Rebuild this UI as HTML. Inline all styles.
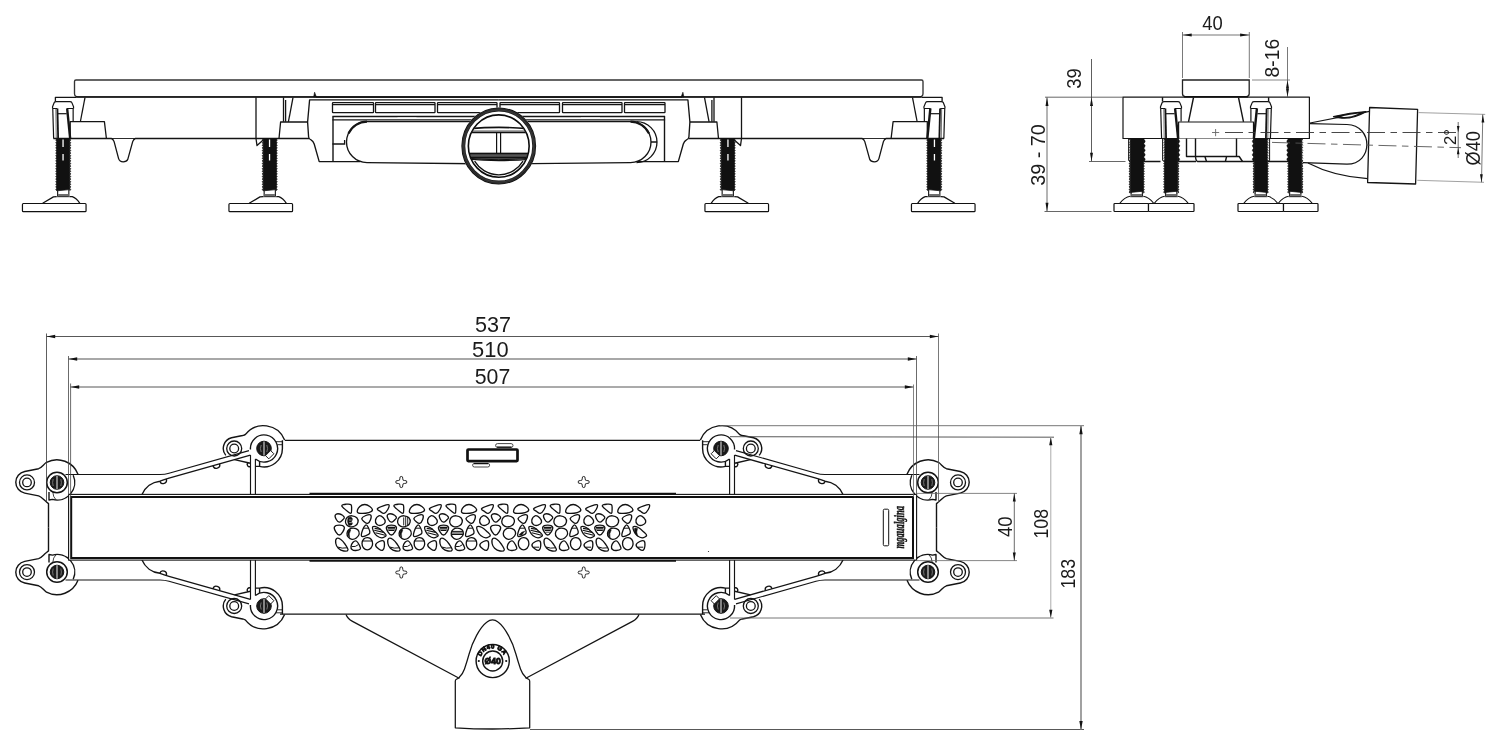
<!DOCTYPE html>
<html lang="en"><head><meta charset="utf-8"><title>Linear drain drawing</title>
<style>
html,body{margin:0;padding:0;background:#fff;}
body{width:1500px;height:751px;overflow:hidden;font-family:"Liberation Sans",sans-serif;}
svg{display:block;position:absolute;left:0;top:0;}
</style></head><body>
<svg width="1500" height="751" viewBox="0 0 1500 751" shape-rendering="geometricPrecision">
<rect x="0" y="0" width="1500" height="751" fill="#fff"/>
<defs>
<g id="clip" fill="none" stroke="#141414" stroke-width="1.2" stroke-linejoin="round">
  <path d="M-10.7,108.5 V106.8 L-9,102.6 Q-8.6,101.6 -7,101.6 H6.6 Q8.2,101.6 8.6,102.6 L10.3,106.8 V108.5" fill="#fff"/>
  <path d="M-10.7,108.5 H-6 M3.6,108.5 H10.3" stroke-width="1.2"/>
  <path d="M-10.5,108.5 L-9.6,138.5" />
  <path d="M-7.4,108.7 L-7.0,138.5" stroke-width="0.7" stroke="#333"/>
  <path d="M-5.8,108.5 L-5.1,138.5" stroke-width="1.8"/>
  <path d="M9.9,108.5 V121.5"/>
  <path d="M-5.4,113.7 H3.4" stroke-width="1.2"/>
  <path d="M3.9,108.5 L6.9,138.5" stroke-width="2.4"/>
</g>
<g id="screw">
  <path d="M-6.3,138.5 H6.3 V189.6 L-6.3,190.8 Z" fill="#111" stroke="#111" stroke-width="0.8"/>
  <path d="M-6.40,138.80 q-2.30,1.30 0,2.60 q-2.30,1.30 0,2.60 q-2.30,1.30 0,2.60 q-2.30,1.30 0,2.60 q-2.30,1.30 0,2.60 q-2.30,1.30 0,2.60 q-2.30,1.30 0,2.60 q-2.30,1.30 0,2.60 q-2.30,1.30 0,2.60 q-2.30,1.30 0,2.60 q-2.30,1.30 0,2.60 q-2.30,1.30 0,2.60 q-2.30,1.30 0,2.60 q-2.30,1.30 0,2.60 q-2.30,1.30 0,2.60 q-2.30,1.30 0,2.60 q-2.30,1.30 0,2.60 q-2.30,1.30 0,2.60 q-2.30,1.30 0,2.60 q-2.30,1.30 0,2.60" fill="#111" stroke="#111" stroke-width="0.5"/>
  <path d="M6.40,138.80 q2.30,1.30 0,2.60 q2.30,1.30 0,2.60 q2.30,1.30 0,2.60 q2.30,1.30 0,2.60 q2.30,1.30 0,2.60 q2.30,1.30 0,2.60 q2.30,1.30 0,2.60 q2.30,1.30 0,2.60 q2.30,1.30 0,2.60 q2.30,1.30 0,2.60 q2.30,1.30 0,2.60 q2.30,1.30 0,2.60 q2.30,1.30 0,2.60 q2.30,1.30 0,2.60 q2.30,1.30 0,2.60 q2.30,1.30 0,2.60 q2.30,1.30 0,2.60 q2.30,1.30 0,2.60 q2.30,1.30 0,2.60 q2.30,1.30 0,2.60" fill="#111" stroke="#111" stroke-width="0.5"/>
  <path d="M-0.2,139.5 V147 M-0.2,154 V160.5" stroke="#fff" stroke-width="1.3"/>
  <path d="M-5.6,190.5 V196 M5.6,189.5 V196" stroke="#111" stroke-width="1.1" fill="none"/>
  <rect x="-5.2" y="194" width="10.4" height="2.6" fill="#6e6e6e"/>
</g>
<g id="screw2">
  <path d="M-6.4,138.5 H6.4 V191.2 L-6.4,192.4 Z" fill="#111" stroke="#111" stroke-width="0.8"/>
  <path d="M-6.50,138.80 q-2.30,1.30 0,2.60 q-2.30,1.30 0,2.60 q-2.30,1.30 0,2.60 q-2.30,1.30 0,2.60 q-2.30,1.30 0,2.60 q-2.30,1.30 0,2.60 q-2.30,1.30 0,2.60 q-2.30,1.30 0,2.60 q-2.30,1.30 0,2.60 q-2.30,1.30 0,2.60 q-2.30,1.30 0,2.60 q-2.30,1.30 0,2.60 q-2.30,1.30 0,2.60 q-2.30,1.30 0,2.60 q-2.30,1.30 0,2.60 q-2.30,1.30 0,2.60 q-2.30,1.30 0,2.60 q-2.30,1.30 0,2.60 q-2.30,1.30 0,2.60 q-2.30,1.30 0,2.60 q-2.30,1.30 0,2.60" fill="#111" stroke="#111" stroke-width="0.5"/>
  <path d="M6.50,138.80 q2.30,1.30 0,2.60 q2.30,1.30 0,2.60 q2.30,1.30 0,2.60 q2.30,1.30 0,2.60 q2.30,1.30 0,2.60 q2.30,1.30 0,2.60 q2.30,1.30 0,2.60 q2.30,1.30 0,2.60 q2.30,1.30 0,2.60 q2.30,1.30 0,2.60 q2.30,1.30 0,2.60 q2.30,1.30 0,2.60 q2.30,1.30 0,2.60 q2.30,1.30 0,2.60 q2.30,1.30 0,2.60 q2.30,1.30 0,2.60 q2.30,1.30 0,2.60 q2.30,1.30 0,2.60 q2.30,1.30 0,2.60 q2.30,1.30 0,2.60 q2.30,1.30 0,2.60" fill="#111" stroke="#111" stroke-width="0.5"/>
  <path d="M6.4,139 q4.2,2.25 0,4.5 q4.2,2.25 0,4.5 q4.2,2.25 0,4.5 q4.2,2.25 0,4.5 q4.2,2.25 0,4.5 Z" fill="#111" stroke="#111" stroke-width="0.4"/>
  <path d="M-7.3,140 V160" stroke="#fff" stroke-width="0.7" stroke-dasharray="1.2 1.4" fill="none"/>
  <path d="M-5.6,192 V196 M5.6,191 V196" stroke="#111" stroke-width="1.1" fill="none"/>
  <rect x="-5.2" y="194" width="10.4" height="2.6" fill="#6e6e6e"/>
  <path d="M-6.6,196.3 Q-12,197 -16.8,203.2 M6.6,196.3 Q12,197 16.8,203.2" stroke="#111" stroke-width="1.1" fill="none"/>
  <path d="M-6.6,196.7 H6.6" stroke="#111" stroke-width="0.9"/>
</g>
<g id="foot" fill="none" stroke="#111" stroke-width="1.25" stroke-linejoin="round">
  <path d="M-6.6,196.7 H6.6" stroke-width="0.9"/>
  <path d="M-6.6,196.6 L-9.8,196.9 L-20.6,203.3"/>
  <path d="M6.6,196.6 H9 Q13.2,198 16.6,203.3"/>
  <rect x="-40.8" y="203.5" width="63.6" height="8.2" rx="0.9" fill="#fff" stroke-width="1.2"/>
</g></defs>

<g id="fhalf" fill="none" stroke="#141414" stroke-width="1.3" stroke-linejoin="round" stroke-linecap="butt">
  <!-- frame -->
  <path d="M76,97.3 H55.4 V101.6" />
  <path d="M53.4,138.5 H111.4 Q113.2,139 114.1,141.6 L118.6,158.6 Q119.6,161.8 123.2,161.8 Q126.7,161.8 127.7,159.6 L132.7,141.6 Q133.6,139 135.4,138.5 H309" />
  <path d="M111.4,138.5 H135.4" stroke-width="0.9"/>
  <path d="M85,97.5 L80.4,121.5"/>
  <path d="M70.2,138.5 V121.6 H104.4 L106.4,138.5"/>
  <path d="M256,97.3 V138.5"/>
  <path d="M283.5,97.3 V121.8 M285.6,100 V121.8" />
  <path d="M293,97.5 L288.4,121.8"/>
  <path d="M279,138.5 L280.6,122 H307.6"/>
  <path d="M256,138.5 L257,145.6 L263.2,140"/>
  <!-- housing -->
  <path d="M498.75,99.8 H309.6 L307.6,122 L308.6,137 Q309,139.2 311,139.8 Q313.2,140.8 314.2,144 L319.2,161.6 H360" stroke-width="1.35"/>
  <path d="M333,116.5 V161.6" stroke-width="1.4"/>
  <path d="M498.75,121.6 H367 A20.5,20.5 0 0 0 367,162.6 L498.75,164" stroke-width="1.35"/>
  <path d="M348.5,133.5 A20.5,20.5 0 0 1 367,121.6" stroke-width="2.1"/>
</g>
<g transform="translate(997.50,0) scale(-1,1)"><use href="#fhalf"/></g>
<path d="M76,80 H921.5 Q923,80 923,81.5 V93.6 Q923,96.9 919.5,96.9 H78 Q74.5,96.9 74.5,93.6 V81.5 Q74.5,80 76,80 Z" fill="none" stroke="#333" stroke-width="1.35"/>
<path d="M76,96.9 H921.5" stroke="#111" stroke-width="1.5" fill="none"/>
<path d="M313.6,97 L314.6,92.2 L316.4,97 Z M683.9,97 L682.9,92.2 L681.1,97 Z" fill="#111" stroke="#111" stroke-width="0.6"/>
<path d="M316,97.2 H682" stroke="#111" stroke-width="1" fill="none"/>
<g fill="none" stroke="#141414" stroke-width="1.3"><rect x="332.5" y="102.6" width="41.0" height="10" rx="0.6"/><path d="M332.5,104.6 H373.5" stroke-width="1.1"/><rect x="375.5" y="102.6" width="59.5" height="10" rx="0.6"/><path d="M375.5,104.6 H435.0" stroke-width="1.1"/><rect x="437.5" y="102.6" width="59.5" height="10" rx="0.6"/><path d="M437.5,104.6 H497.0" stroke-width="1.1"/><rect x="500.0" y="102.6" width="59.5" height="10" rx="0.6"/><path d="M500.0,104.6 H559.5" stroke-width="1.1"/><rect x="562.5" y="102.6" width="59.5" height="10" rx="0.6"/><path d="M562.5,104.6 H622.0" stroke-width="1.1"/><rect x="624.5" y="102.6" width="40.5" height="10" rx="0.6"/><path d="M624.5,104.6 H665.0" stroke-width="1.1"/><path d="M332.4,116.5 H665.1" stroke-width="1.3"/><path d="M332.4,119.9 H665.1" stroke-width="1.2"/><path d="M397.5,118.2 H416.5 M581,118.2 H600" stroke="#fff" stroke-width="1.6"/></g>
<path d="M332.4,144 H344.6 V140" fill="none" stroke="#141414" stroke-width="1.3"/>
<path d="M636.5,121.6 A20.5,20.5 0 0 1 636.5,162.6 M651,142 H657" fill="none" stroke="#141414" stroke-width="1.3"/>
<g><ellipse cx="498.75" cy="146" rx="37.6" ry="38.6" fill="#fff"/><clipPath id="cc"><ellipse cx="498.75" cy="146.2" rx="30" ry="31"/></clipPath><g clip-path="url(#cc)"><path d="M470,128.6 Q498.75,126.2 528,128.6" fill="none" stroke="#111" stroke-width="1.7"/><path d="M465,131.1 H533" fill="none" stroke="#111" stroke-width="0.9"/><path d="M465,132.7 H533" fill="none" stroke="#111" stroke-width="1.2"/><path d="M496.6,132.6 V153.5 M500.6,132.6 V153.5" fill="none" stroke="#111" stroke-width="1.2"/><path d="M465,153.4 H533 V158 Q498.75,161.4 465,158 Z" fill="#555" stroke="#111" stroke-width="1"/><path d="M465,157.4 H533" stroke="#111" stroke-width="1.5" fill="none"/><path d="M465,153.5 H533" stroke="#111" stroke-width="1.5" fill="none"/><path d="M466,159 Q498.75,162.2 532,159" stroke="#111" stroke-width="1.2" fill="none"/><path d="M474.6,161.2 A28.3,28.3 0 0 0 523,161.2" fill="none" stroke="#111" stroke-width="1.3"/></g><ellipse cx="498.75" cy="146" rx="35.45" ry="36.55" fill="none" stroke="#0c0c0c" stroke-width="3.9"/><ellipse cx="498.75" cy="146" rx="35.2" ry="36.3" fill="none" stroke="#fff" stroke-opacity="0.55" stroke-width="0.35"/><ellipse cx="498.75" cy="146" rx="36.3" ry="37.4" fill="none" stroke="#fff" stroke-opacity="0.5" stroke-width="0.3"/><ellipse cx="498.75" cy="146" rx="34.3" ry="35.4" fill="none" stroke="#fff" stroke-opacity="0.45" stroke-width="0.3"/><ellipse cx="498.75" cy="146.1" rx="30.4" ry="31.2" fill="none" stroke="#0c0c0c" stroke-width="1.6"/></g>
<g transform="translate(63.25,0)"><use href="#screw"/><use href="#foot"/></g>
<g transform="translate(269.75,0)"><use href="#screw"/><use href="#foot"/></g>
<g transform="translate(727.75,0) scale(-1,1)"><use href="#screw"/><use href="#foot"/></g>
<g transform="translate(934.25,0) scale(-1,1)"><use href="#screw"/><use href="#foot"/></g>
<use href="#clip" transform="translate(63.25,0)"/>
<use href="#clip" transform="translate(934.25,0) scale(-1,1)"/>
<g fill="none" stroke="#141414" stroke-width="1.4" stroke-linejoin="round"><rect x="1123" y="97.2" width="186.4" height="41.3" stroke-width="1.2"/><path d="M1162.5,97.2 V101.6 M1268.6,97.2 V101.6"/><path d="M1193.5,97.5 L1188.5,121.8 M1238.5,97.5 L1243.5,121.8"/><path d="M1178.6,138.5 V122 H1253.5 V138.5" stroke-width="1.2" fill="#fff"/><path d="M1186.5,138.5 V156.5 H1239.2 L1242.5,161.5"/><path d="M1195.5,138.5 V156.5 Q1195.8,161 1197.6,161.5 H1254"/><path d="M1236.5,138.5 V156.5"/><path d="M1205,156.8 L1206.5,161.5 M1226.5,156.8 L1225.4,161.5"/><path d="M1144,161.5 H1160.5 M1178.5,161.5 H1196 M1268,161.5 H1288.5" stroke-width="1.5"/><path d="M1128.6,138.5 V160.5 L1130,161.5 M1162.6,138.5 V160.5 L1164.4,161.5 M1269.6,138.5 V160.5 L1268,161.5" stroke-width="1"/></g>
<path d="M1182.5,80 H1249.2 V93.8 Q1249.2,96.6 1246.4,96.6 H1185.3 Q1182.5,96.6 1182.5,93.8 Z" fill="#fff" stroke="#222" stroke-width="1.3"/>
<path d="M1184,96.7 H1248" stroke="#111" stroke-width="1.4"/>
<use href="#clip" transform="translate(1171.2,0)"/>
<use href="#clip" transform="translate(1260.8,0) scale(-1,1)"/>
<use href="#screw2" transform="translate(1136.75,0)"/>
<use href="#screw2" transform="translate(1171.25,0)"/>
<use href="#screw2" transform="translate(1260.75,0) scale(-1,1)"/>
<use href="#screw2" transform="translate(1295.25,0) scale(-1,1)"/>
<rect x="1114.0" y="203.5" width="34.5" height="8" rx="0.8" fill="#fff" stroke="#111" stroke-width="1.2"/>
<rect x="1148.5" y="203.5" width="45.5" height="8" rx="0.8" fill="#fff" stroke="#111" stroke-width="1.2"/>
<rect x="1238.0" y="203.5" width="45.5" height="8" rx="0.8" fill="#fff" stroke="#111" stroke-width="1.2"/>
<rect x="1283.5" y="203.5" width="34.5" height="8" rx="0.8" fill="#fff" stroke="#111" stroke-width="1.2"/>
<g fill="none" stroke="#141414" stroke-width="1.25" stroke-linejoin="round"><path d="M1310,123 L1369.5,111.3"/><path d="M1333.5,116.6 Q1350,112.4 1366,111.6 Q1352,119.6 1340,117.9 Q1336,117.5 1333.5,116.6 Z" fill="#111"/><path d="M1341,116.4 Q1350,114.2 1359,113.4 Q1351,117 1344,116.9 Z" fill="#fff" stroke="none"/><path d="M1310,123.6 L1347,124.5 C1373.5,125.2 1373.5,164.2 1347,164.2 L1303,162.6"/><path d="M1308,163 Q1334,176.5 1367.6,178.6"/><path d="M1369.6,107.5 L1417.6,109.4 L1415.6,184 L1367.6,182.5 Z" stroke-width="1.3" fill="#fff"/></g>
<path d="M1212,132.5 H1219.2 M1215.6,129 V136.2" stroke="#666" stroke-width="0.9" fill="none"/>
<path d="M1225,132.5 H1461" stroke="#333" stroke-width="0.9" stroke-dasharray="18 5.5 6.5 5.5" fill="none"/>
<path d="M1272,142.4 L1461,147.7" stroke="#555" stroke-width="0.9" stroke-dasharray="18 5.5 6.5 5.5" fill="none"/>
<g id="quad" fill="none" stroke="#141414" stroke-width="1.4" stroke-linejoin="round"><path d="M78,474.2 A22.7,22.7 0 0 0 46.5,462.3 C43.5,464.5 41.5,467.8 38.6,468.7 L24.7,471.5 A11,11 0 0 0 24.7,493.1 L38.6,495.9 C41.5,496.8 43.5,499.8 46.5,502 L48.5,503.6 V527.25" fill="#fff"/><circle cx="27.00" cy="482.40" r="7.50" fill="none" stroke="#141414" stroke-width="1.30"/><circle cx="27.00" cy="482.40" r="4.30" fill="none" stroke="#141414" stroke-width="1.30"/><path d="M65.5,474.5 H160 Q165,474.4 169,473.2 L249,450.6" stroke-width="1.15"/><path d="M250.4,455.1 L169,478.2 Q164,479.6 160,481.2 A22,22 0 0 0 142,494.5"/><path d="M213,465.8 a3.4,3.4 0 0 0 6.6,-1.9 M159.8,481.3 a3.4,3.4 0 0 0 6.4,-2.4"/><path d="M234.5,459.6 L250.4,463.2 M247.6,463 a2.4,2.4 0 0 0 2.8,3.6"/><path d="M250.5,455 V494.5 M255.4,459 V494.5" stroke-width="1.15"/><path d="M73.2,475.2 A17.6,17.6 0 0 1 52.5,499.4 L49,500 V492"/><path d="M52.8,492 Q53,497 56,499.8" stroke-width="0.8"/><circle cx="57.00" cy="482.50" r="10.30" fill="#fff" stroke="#141414" stroke-width="1.50"/><circle cx="57.00" cy="482.50" r="6.80" fill="#1a1a1a" stroke="#141414" stroke-width="1.00"/><path d="M57,475.8 V489.2" stroke="#eee" stroke-width="1"/><path d="M53.2,479 q-1.2,3.5 0,7 M60.8,479 q1.2,3.5 0,7" stroke="#999" stroke-width="0.7"/><path d="M284.6,440 A22.8,22.8 0 0 0 245.5,434.4 C244,435.4 243.6,435.2 242.6,435.5 L231.5,437.8 A11,11 0 0 0 225.8,455.4" fill="none"/><circle cx="234.20" cy="448.50" r="7.50" fill="none" stroke="#141414" stroke-width="1.30"/><circle cx="234.20" cy="448.50" r="4.40" fill="none" stroke="#141414" stroke-width="1.30"/><path d="M282.4,440.3 V448.5 A18.4,18.4 0 0 1 259.6,466.4 H255.4 M259.6,466.4 V461.6"/><path d="M276,441.7 H282.4 M277.4,444.7 H282.4" stroke-width="0.9"/><path d="M250.45,449.5 A13.6,13.6 0 1 1 255.4,459.05" /><circle cx="264.00" cy="448.50" r="7.30" fill="#1a1a1a" stroke="#141414" stroke-width="1.00"/><path d="M264,441.6 V455.4" stroke="#eee" stroke-width="1"/><path d="M261.2,445 q-1.6,3.5 0,7 M266.8,445 q1.6,3.5 0,7" stroke="#999" stroke-width="0.7"/><rect x="-3.6" y="-2.3" width="7.2" height="4.6" transform="translate(269.7,454.7) rotate(-45)" fill="#fff" stroke-width="0.9"/><path d="M400.1,476.9 q1.2,-0.9 2.4,0 q0.3,2.4 0.6,3.3 q0.9,0.3 3.3,0.6 q0.9,1.2 0,2.4 q-2.4,0.3 -3.3,0.6 q-0.3,0.9 -0.6,3.3 q-1.2,0.9 -2.4,0 q-0.3,-2.4 -0.6,-3.3 q-0.9,-0.3 -3.3,-0.6 q-0.9,-1.2 0,-2.4 q2.4,-0.3 3.3,-0.6 q0.3,-0.9 0.6,-3.3 z" stroke-width="0.9"/></g>
<use href="#quad" transform="translate(985.00,0) scale(-1,1)"/>
<use href="#quad" transform="translate(0,1054.50) scale(1,-1)"/>
<use href="#quad" transform="translate(985.00,1054.50) scale(-1,-1)"/>
<g fill="none" stroke="#141414" stroke-width="1.25" stroke-linejoin="round"><path d="M284.8,440.3 H700.2 M280,614.2 H705"/><path d="M346,614.5 Q347.5,618.6 352.5,621.4 L458.7,678 M639,614.5 Q637.5,618.6 632.5,621.4 L526.3,678"/><path d="M458.9,677.7 C462,675 463.5,672 464.5,669 C466.5,663 468,658 469.1,654 C471,647 473.5,641 476.6,635.4 C479.5,630 483,625 487,622 C489,620.4 491,619.9 492.5,619.9 C494,619.9 496,620.4 498,622 C502,625 505.5,630 508.4,635.4 C511.5,641 514,647 515.9,654 C517,658 518.5,663 520.5,669 C521.5,672 523,675 526.1,677.7"/><path d="M459.6,677.6 L456.4,679.2 Q455.3,679.8 455.3,681.2 V727.8 Q492.5,730.2 529.7,727.8 V681.2 Q529.7,679.8 528.6,679.2 L525.4,677.6"/><circle cx="492.70" cy="661.00" r="16.60" fill="none" stroke="#141414" stroke-width="1.45"/><circle cx="492.70" cy="661.00" r="10.00" fill="none" stroke="#141414" stroke-width="1.45"/></g>
<path id="bp" d="M480.2,661 A12.5,12.5 0 0 1 505.2,661" fill="none"/>
<circle cx="478.8" cy="661" r="1.1" fill="#111"/><circle cx="506.2" cy="661" r="1.1" fill="#111"/>
<g fill="none" stroke="#111"><rect x="68.6" y="494.4" width="848" height="65.7" stroke-width="1.1" fill="#fff"/><rect x="71.2" y="497" width="841.8" height="61" stroke-width="2"/><path d="M309.5,493.6 H676 M309.5,560.9 H676" stroke-width="1.8"/></g>
<rect x="467.5" y="449.5" width="50" height="11.6" rx="0.8" fill="none" stroke="#111" stroke-width="2.7"/>
<rect x="495.6" y="443.6" width="17.4" height="3.8" rx="1.9" fill="#fff" stroke="#333" stroke-width="0.9"/>
<rect x="472.6" y="463.4" width="17" height="3.6" rx="1.8" fill="#fff" stroke="#333" stroke-width="0.9"/>
<path d="M497,447.2 H511.5 M474,463.6 H488" stroke="#111" stroke-width="1.2"/>
<rect x="883.3" y="509.2" width="5.4" height="36.6" rx="1.2" fill="none" stroke="#111" stroke-width="1"/>
<circle cx="708.5" cy="551.5" r="0.6" fill="#222"/>
<defs><g id="peb" fill="none" stroke="#111" stroke-width="1.32"><path d="M7.80,20.80 C7.63,19.63 10.77,19.37 12.30,19.20 C13.83,19.03 16.12,19.00 17.00,19.80 C17.88,20.60 17.60,22.60 17.60,24.00 C17.60,25.40 17.72,27.83 17.00,28.20 C16.28,28.57 14.83,27.43 13.30,26.20 C11.77,24.97 7.97,21.97 7.80,20.80Z"/><path d="M23.30,26.80 C23.13,25.65 24.55,22.72 25.80,21.50 C27.05,20.28 29.13,19.50 30.80,19.50 C32.47,19.50 34.53,20.55 35.80,21.50 C37.07,22.45 38.57,24.18 38.40,25.20 C38.23,26.22 36.73,27.07 34.80,27.60 C32.87,28.13 28.72,28.53 26.80,28.40 C24.88,28.27 23.47,27.95 23.30,26.80Z"/><path d="M43.30,23.80 C43.80,22.85 47.38,21.47 49.30,20.80 C51.22,20.13 54.05,19.18 54.80,19.80 C55.55,20.42 54.60,23.07 53.80,24.50 C53.00,25.93 51.25,28.07 50.00,28.40 C48.75,28.73 47.42,27.27 46.30,26.50 C45.18,25.73 42.80,24.75 43.30,23.80Z"/><path d="M1.30,30.00 C1.88,29.08 4.30,28.63 5.80,29.00 C7.30,29.37 9.88,31.17 10.30,32.20 C10.72,33.23 9.13,34.37 8.30,35.20 C7.47,36.03 6.30,37.32 5.30,37.20 C4.30,37.08 2.97,35.70 2.30,34.50 C1.63,33.30 0.72,30.92 1.30,30.00Z"/><path d="M11.50,36.20 C11.62,34.93 12.22,33.10 13.30,32.20 C14.38,31.30 16.42,30.70 18.00,30.80 C19.58,30.90 21.80,31.73 22.80,32.80 C23.80,33.87 24.25,35.87 24.00,37.20 C23.75,38.53 22.58,40.03 21.30,40.80 C20.02,41.57 17.75,41.97 16.30,41.80 C14.85,41.63 13.40,40.73 12.60,39.80 C11.80,38.87 11.38,37.47 11.50,36.20Z"/><path d="M27.80,33.50 C28.05,32.45 30.33,31.08 31.80,30.50 C33.27,29.92 35.80,29.33 36.60,30.00 C37.40,30.67 37.10,33.10 36.60,34.50 C36.10,35.90 34.65,38.02 33.60,38.40 C32.55,38.78 31.27,37.62 30.30,36.80 C29.33,35.98 27.55,34.55 27.80,33.50Z"/><path d="M41.50,35.00 C41.80,33.55 43.50,31.17 44.80,30.80 C46.10,30.43 48.23,31.73 49.30,32.80 C50.37,33.87 51.45,35.97 51.20,37.20 C50.95,38.43 49.17,39.82 47.80,40.20 C46.43,40.58 44.05,40.37 43.00,39.50 C41.95,38.63 41.20,36.45 41.50,35.00Z"/><path d="M0.40,42.00 C0.98,40.90 3.67,40.20 5.30,40.20 C6.93,40.20 9.62,40.90 10.20,42.00 C10.78,43.10 9.62,45.47 8.80,46.80 C7.98,48.13 6.47,50.00 5.30,50.00 C4.13,50.00 2.62,48.13 1.80,46.80 C0.98,45.47 -0.18,43.10 0.40,42.00Z"/><path d="M13.00,48.20 C13.12,46.92 13.95,45.33 15.00,44.50 C16.05,43.67 17.83,43.15 19.30,43.20 C20.77,43.25 22.82,43.83 23.80,44.80 C24.78,45.77 25.45,47.63 25.20,49.00 C24.95,50.37 23.50,52.12 22.30,53.00 C21.10,53.88 19.33,54.43 18.00,54.30 C16.67,54.17 15.13,53.22 14.30,52.20 C13.47,51.18 12.88,49.48 13.00,48.20Z"/><path d="M31.80,40.00 C32.75,39.58 33.63,41.17 34.30,42.50 C34.97,43.83 36.13,46.67 35.80,48.00 C35.47,49.33 33.67,49.97 32.30,50.50 C30.93,51.03 28.22,52.12 27.60,51.20 C26.98,50.28 27.90,46.87 28.60,45.00 C29.30,43.13 30.85,40.42 31.80,40.00Z"/><path d="M38.80,41.80 C39.50,41.13 42.05,41.63 43.80,42.50 C45.55,43.37 47.92,45.67 49.30,47.00 C50.68,48.33 52.35,49.53 52.10,50.50 C51.85,51.47 49.35,52.75 47.80,52.80 C46.25,52.85 44.17,51.85 42.80,50.80 C41.43,49.75 40.27,48.00 39.60,46.50 C38.93,45.00 38.10,42.47 38.80,41.80Z"/><path d="M2.60,53.50 C3.43,52.83 5.35,53.50 6.80,54.50 C8.25,55.50 10.10,57.78 11.30,59.50 C12.50,61.22 14.25,63.72 14.00,64.80 C13.75,65.88 11.42,66.27 9.80,66.00 C8.18,65.73 5.63,64.45 4.30,63.20 C2.97,61.95 2.08,60.12 1.80,58.50 C1.52,56.88 1.77,54.17 2.60,53.50Z"/><path d="M17.00,61.50 C17.17,60.28 18.12,58.12 19.00,57.20 C19.88,56.28 21.25,55.53 22.30,56.00 C23.35,56.47 24.63,58.67 25.30,60.00 C25.97,61.33 26.88,63.08 26.30,64.00 C25.72,64.92 23.18,65.42 21.80,65.50 C20.42,65.58 18.80,65.17 18.00,64.50 C17.20,63.83 16.83,62.72 17.00,61.50Z"/><path d="M28.00,58.50 C28.03,57.00 28.87,54.97 29.80,54.00 C30.73,53.03 32.35,52.62 33.60,52.70 C34.85,52.78 36.47,53.45 37.30,54.50 C38.13,55.55 38.68,57.55 38.60,59.00 C38.52,60.45 37.68,62.23 36.80,63.20 C35.92,64.17 34.50,64.83 33.30,64.80 C32.10,64.77 30.48,64.05 29.60,63.00 C28.72,61.95 27.97,60.00 28.00,58.50Z"/><path d="M41.60,60.00 C41.68,58.75 43.97,57.17 45.30,56.50 C46.63,55.83 48.75,55.25 49.60,56.00 C50.45,56.75 50.53,59.47 50.40,61.00 C50.27,62.53 49.73,64.70 48.80,65.20 C47.87,65.70 46.00,64.87 44.80,64.00 C43.60,63.13 41.52,61.25 41.60,60.00Z"/></g></defs>
<g transform="translate(334.00,485)"><use href="#peb"/><path d="M14.2,32.6 Q12.6,36.6 14.8,40.4 Q18.4,40.6 18.4,38.2 Q16.6,36.8 18.2,35 Q19,32.8 16.6,32 Z" fill="#111" stroke="#111" stroke-width="0.5"/><path d="M15,35 h2.6 M15.2,37.6 h2.6" stroke="#fff" stroke-width="0.6"/><path d="M15.2,44.4 Q12.2,48.6 15.6,52.6 Q14.6,48.4 16.8,44.8 Z" fill="#111" stroke="#111" stroke-width="0.5"/><path d="M29.3,43.2 H34.3" stroke="#111" fill="none" stroke-width="1"/><path d="M40.6,43.4 L46.8,44.4 M40.2,45.3 L49.6,47.4 M41.4,47.8 L51.2,50.2" stroke="#111" fill="none" stroke-width="1.1"/><path d="M3.6,62 Q8,63.8 13.2,62.8" stroke="#111" fill="none" stroke-width="1"/><path d="M28.6,56 H38.3" stroke="#111" fill="none" stroke-width="1"/><path d="M17.6,61.6 Q21.6,62.2 24.4,59.6" stroke="#111" fill="none" stroke-width="1"/></g>
<g transform="translate(386.10,485)"><use href="#peb"/><path d="M19.6,31.4 V41 M21.6,31.6 V40.6 M17.6,32.4 V40.4" stroke="#111" fill="none" stroke-width="0.9"/><path d="M1.3,42.3 H9.3 M1.6,43.9 H9 M2.3,45.5 H8.3" stroke="#111" fill="none" stroke-width="1.15"/><path d="M15.2,44.4 Q12.2,48.6 15.6,52.6 Q14.6,48.4 16.8,44.8 Z" fill="#111" stroke="#111" stroke-width="0.5"/><path d="M29.3,43.2 H34.3" stroke="#111" fill="none" stroke-width="1"/><path d="M40.6,43.4 L46.8,44.4 M40.2,45.3 L49.6,47.4 M41.4,47.8 L51.2,50.2" stroke="#111" fill="none" stroke-width="1.1"/><path d="M3.6,62 Q8,63.8 13.2,62.8" stroke="#111" fill="none" stroke-width="1"/><path d="M28.6,56 H38.3" stroke="#111" fill="none" stroke-width="1"/><path d="M17.6,61.6 Q21.6,62.2 24.4,59.6" stroke="#111" fill="none" stroke-width="1"/></g>
<g transform="translate(438.20,485)"><use href="#peb"/><path d="M1.3,42.3 H9.3 M1.6,43.9 H9 M2.3,45.5 H8.3" stroke="#111" fill="none" stroke-width="1.15"/><path d="M13.5,46.4 H24.9 M13.1,48 H25.2 M13.3,49.5 H25" stroke="#111" fill="none" stroke-width="1"/><path d="M29.3,43.2 H34.3" stroke="#111" fill="none" stroke-width="1"/><path d="M3.6,62 Q8,63.8 13.2,62.8" stroke="#111" fill="none" stroke-width="1"/><path d="M28.6,56 H38.3" stroke="#111" fill="none" stroke-width="1"/><path d="M17.6,61.6 Q21.6,62.2 24.4,59.6" stroke="#111" fill="none" stroke-width="1"/></g>
<g transform="translate(490.30,485)"><use href="#peb"/><path d="M29.3,43.2 H34.3" stroke="#111" fill="none" stroke-width="1"/><path d="M28.6,50 Q31,46.6 34.6,46 Q32.6,48.6 31.4,50.4 Z" fill="#111" stroke="#111" stroke-width="0.4"/><path d="M40.6,43.4 L46.8,44.4 M40.2,45.3 L49.6,47.4 M41.4,47.8 L51.2,50.2" stroke="#111" fill="none" stroke-width="1.1"/><path d="M43.4,62.2 H48.8" stroke="#111" fill="none" stroke-width="1"/></g>
<g transform="translate(542.40,485)"><use href="#peb"/><path d="M1.3,42.3 H9.3 M1.6,43.9 H9 M2.3,45.5 H8.3" stroke="#111" fill="none" stroke-width="1.15"/><path d="M3.1,47.2 H7.5" stroke="#111" fill="none" stroke-width="0.8"/><path d="M29.3,43.2 H34.3" stroke="#111" fill="none" stroke-width="1"/><path d="M40.6,43.4 L46.8,44.4 M40.2,45.3 L49.6,47.4 M41.4,47.8 L51.2,50.2" stroke="#111" fill="none" stroke-width="1.1"/><path d="M43.4,62.2 H48.8" stroke="#111" fill="none" stroke-width="1"/><path d="M3.6,62 Q8,63.8 13.2,62.8" stroke="#111" fill="none" stroke-width="1"/></g>
<g transform="translate(594.50,485)"><use href="#peb"/><path d="M1.3,42.3 H9.3 M1.6,43.9 H9 M2.3,45.5 H8.3" stroke="#111" fill="none" stroke-width="1.15"/><path d="M15.2,44.4 Q12.2,48.6 15.6,52.6 Q14.6,48.4 16.8,44.8 Z" fill="#111" stroke="#111" stroke-width="0.5"/><path d="M29.3,43.2 H34.3" stroke="#111" fill="none" stroke-width="1"/><path d="M40.3,43 Q38.6,47.5 43.2,51.2 Q41.4,47 43,43.4 Z" fill="#111" stroke="#111" stroke-width="0.5"/><path d="M43.4,62.2 H48.8" stroke="#111" fill="none" stroke-width="1"/><path d="M3.6,62 Q8,63.8 13.2,62.8" stroke="#111" fill="none" stroke-width="1"/></g>
<g opacity="0.996"><path d="M46.50,336.50 L938.50,336.50" stroke="#444" stroke-width="0.90" fill="none"/><path d="M46.50,333.50 L46.50,503.00" stroke="#333" stroke-width="0.80" fill="none"/><path d="M938.50,333.50 L938.50,503.00" stroke="#555" stroke-width="0.80" fill="none"/><path d="M46.70,336.50 L55.20,334.80 L55.20,338.20 Z" fill="#111"/><path d="M938.30,336.50 L929.80,338.20 L929.80,334.80 Z" fill="#111"/><path d="M68.50,359.00 L916.50,359.00" stroke="#8a8a8a" stroke-width="1.50" fill="none"/><path d="M68.50,356.00 L68.50,495.00" stroke="#444" stroke-width="0.80" fill="none"/><path d="M916.50,356.00 L916.50,495.00" stroke="#444" stroke-width="0.80" fill="none"/><path d="M68.70,359.00 L77.20,357.30 L77.20,360.70 Z" fill="#111"/><path d="M916.30,359.00 L907.80,360.70 L907.80,357.30 Z" fill="#111"/><path d="M70.50,387.00 L913.50,387.00" stroke="#444" stroke-width="0.90" fill="none"/><path d="M70.60,383.50 L70.60,497.00" stroke="#444" stroke-width="0.80" fill="none"/><path d="M913.50,384.50 L913.50,497.00" stroke="#666" stroke-width="0.80" fill="none"/><path d="M70.70,387.00 L79.20,385.30 L79.20,388.70 Z" fill="#111"/><path d="M913.30,387.00 L904.80,388.70 L904.80,385.30 Z" fill="#111"/><text x="493.00" y="332.00" textLength="36.0" lengthAdjust="spacingAndGlyphs" text-anchor="middle" font-family="Liberation Sans, sans-serif" font-size="22.3" fill="#1a1a1a" xml:space="preserve">537</text><text x="490.30" y="356.50" textLength="36.5" lengthAdjust="spacingAndGlyphs" text-anchor="middle" font-family="Liberation Sans, sans-serif" font-size="22.3" fill="#1a1a1a" xml:space="preserve">510</text><text x="492.50" y="384.00" textLength="35.5" lengthAdjust="spacingAndGlyphs" text-anchor="middle" font-family="Liberation Sans, sans-serif" font-size="22.3" fill="#1a1a1a" xml:space="preserve">507</text><path d="M916.00,493.40 L1017.00,493.40" stroke="#666" stroke-width="0.80" fill="none"/><path d="M916.00,560.60 L1017.00,560.60" stroke="#666" stroke-width="0.80" fill="none"/><path d="M1014.30,493.40 L1014.30,560.60" stroke="#444" stroke-width="0.80" fill="none"/><path d="M1014.30,493.50 L1015.80,501.50 L1012.80,501.50 Z" fill="#111"/><path d="M1014.30,560.50 L1012.80,552.50 L1015.80,552.50 Z" fill="#111"/><text x="0" y="0" transform="translate(1012.00,537.00) rotate(-90)" textLength="20.5" lengthAdjust="spacingAndGlyphs" text-anchor="start" font-family="Liberation Sans, sans-serif" font-size="19.6" fill="#1a1a1a" xml:space="preserve">40</text><path d="M730.00,436.70 L1054.00,437.20" stroke="#444" stroke-width="0.90" fill="none"/><path d="M730.00,618.00 L1053.50,618.00" stroke="#666" stroke-width="0.90" fill="none"/><path d="M1050.80,437.00 L1050.80,618.00" stroke="#aaa" stroke-width="1.00" fill="none"/><path d="M1050.80,437.20 L1052.40,445.20 L1049.20,445.20 Z" fill="#111"/><path d="M1050.80,617.80 L1049.20,609.80 L1052.40,609.80 Z" fill="#111"/><text x="0" y="0" transform="translate(1048.00,538.50) rotate(-90)" textLength="29.5" lengthAdjust="spacingAndGlyphs" text-anchor="start" font-family="Liberation Sans, sans-serif" font-size="19.6" fill="#1a1a1a" xml:space="preserve">108</text><path d="M720.00,425.70 L1084.00,425.70" stroke="#666" stroke-width="0.90" fill="none"/><path d="M530.00,729.50 L1084.00,729.50" stroke="#444" stroke-width="0.90" fill="none"/><path d="M1081.00,426.00 L1081.00,729.50" stroke="#909090" stroke-width="1.70" fill="none"/><path d="M1081.00,425.80 L1082.70,434.30 L1079.30,434.30 Z" fill="#111"/><path d="M1081.00,729.40 L1079.30,720.90 L1082.70,720.90 Z" fill="#111"/><text x="0" y="0" transform="translate(1075.00,588.50) rotate(-90)" textLength="29.5" lengthAdjust="spacingAndGlyphs" text-anchor="start" font-family="Liberation Sans, sans-serif" font-size="19.6" fill="#1a1a1a" xml:space="preserve">183</text><path d="M1182.50,35.00 L1249.50,35.00" stroke="#777" stroke-width="1.10" fill="none"/><path d="M1182.50,32.00 L1182.50,78.00" stroke="#555" stroke-width="0.80" fill="none"/><path d="M1249.30,32.00 L1249.30,78.00" stroke="#555" stroke-width="0.80" fill="none"/><path d="M1182.70,35.00 L1191.70,33.60 L1191.70,36.40 Z" fill="#111"/><path d="M1249.10,35.00 L1240.10,36.40 L1240.10,33.60 Z" fill="#111"/><text x="1212.60" y="30.00" textLength="20.5" lengthAdjust="spacingAndGlyphs" text-anchor="middle" font-family="Liberation Sans, sans-serif" font-size="19.6" fill="#1a1a1a" xml:space="preserve">40</text><path d="M1252.00,80.00 L1290.00,80.00" stroke="#888" stroke-width="1.00" fill="none"/><path d="M1287.50,47.00 L1287.50,97.00" stroke="#555" stroke-width="0.80" fill="none"/><path d="M1287.50,80.20 L1289.00,88.50 L1286.00,88.50 Z" fill="#111"/><path d="M1287.50,96.80 L1286.00,88.50 L1289.00,88.50 Z" fill="#111"/><text x="0" y="0" transform="translate(1279.00,77.40) rotate(-90)" textLength="38.6" lengthAdjust="spacingAndGlyphs" text-anchor="start" font-family="Liberation Sans, sans-serif" font-size="19.6" fill="#1a1a1a" xml:space="preserve">8-16</text><path d="M1045.00,97.20 L1123.00,97.20" stroke="#555" stroke-width="0.90" fill="none"/><path d="M1091.50,59.00 L1091.50,161.50" stroke="#333" stroke-width="0.80" fill="none"/><path d="M1091.50,97.40 L1093.00,105.90 L1090.00,105.90 Z" fill="#111"/><path d="M1091.50,161.30 L1090.00,152.80 L1093.00,152.80 Z" fill="#111"/><path d="M1089.00,161.50 L1125.50,161.50" stroke="#555" stroke-width="0.90" fill="none"/><text x="0" y="0" transform="translate(1081.00,88.80) rotate(-90)" textLength="20.5" lengthAdjust="spacingAndGlyphs" text-anchor="start" font-family="Liberation Sans, sans-serif" font-size="19.6" fill="#1a1a1a" xml:space="preserve">39</text><path d="M1047.00,97.40 L1047.00,211.50" stroke="#444" stroke-width="0.80" fill="none"/><path d="M1047.00,97.40 L1048.50,105.90 L1045.50,105.90 Z" fill="#111"/><path d="M1047.00,211.30 L1045.50,202.80 L1048.50,202.80 Z" fill="#111"/><path d="M1044.50,211.50 L1111.50,211.50" stroke="#555" stroke-width="0.90" fill="none"/><text x="0" y="0" transform="translate(1045.00,185.80) rotate(-90)" textLength="61.5" lengthAdjust="spacingAndGlyphs" text-anchor="start" font-family="Liberation Sans, sans-serif" font-size="19.6" fill="#1a1a1a" xml:space="preserve">39 - 70</text><path d="M1418.60,112.60 L1485.20,114.40" stroke="#888" stroke-width="0.80" fill="none"/><path d="M1417.30,180.30 L1484.00,182.30" stroke="#888" stroke-width="0.80" fill="none"/><path d="M1482.80,114.40 L1481.50,182.30" stroke="#555" stroke-width="0.80" fill="none"/><path d="M1482.80,114.50 L1484.34,122.47 L1481.54,122.52 Z" fill="#111"/><path d="M1481.50,182.20 L1479.96,174.23 L1482.76,174.18 Z" fill="#111"/><text x="0" y="0" transform="translate(1479.50,165.50) rotate(-90)" textLength="34.5" lengthAdjust="spacingAndGlyphs" text-anchor="start" font-family="Liberation Sans, sans-serif" font-size="19.6" fill="#1a1a1a" xml:space="preserve">&#216;40</text><path d="M1458.20,122.00 L1458.20,158.00" stroke="#444" stroke-width="0.80" fill="none"/><path d="M1458.20,132.40 L1456.90,125.90 L1459.50,125.90 Z" fill="#111"/><path d="M1458.20,147.70 L1459.50,154.20 L1456.90,154.20 Z" fill="#111"/><text x="0" y="0" transform="translate(1456.00,145.00) rotate(-90)" textLength="16.0" lengthAdjust="spacingAndGlyphs" text-anchor="start" font-family="Liberation Sans, sans-serif" font-size="17.0" fill="#1a1a1a" xml:space="preserve">2&#176;</text><text font-family="Liberation Sans, sans-serif" font-weight="bold" font-size="6" fill="#111" stroke="#111" stroke-width="0.8" letter-spacing="0.4"><textPath href="#bp" startOffset="4.5">DN40 GA</textPath></text><text x="492.7" y="664" text-anchor="middle" font-family="Liberation Sans, sans-serif" font-weight="bold" font-size="8.6" fill="#111" stroke="#111" stroke-width="0.9">&#216;40</text><text transform="translate(904,548.4) rotate(-90)" font-family="Liberation Serif, serif" font-style="italic" font-weight="bold" font-size="14" textLength="42.4" lengthAdjust="spacingAndGlyphs" fill="#111" stroke="#111" stroke-width="0.5">mgaualgina</text></g>
</svg>
</body></html>
